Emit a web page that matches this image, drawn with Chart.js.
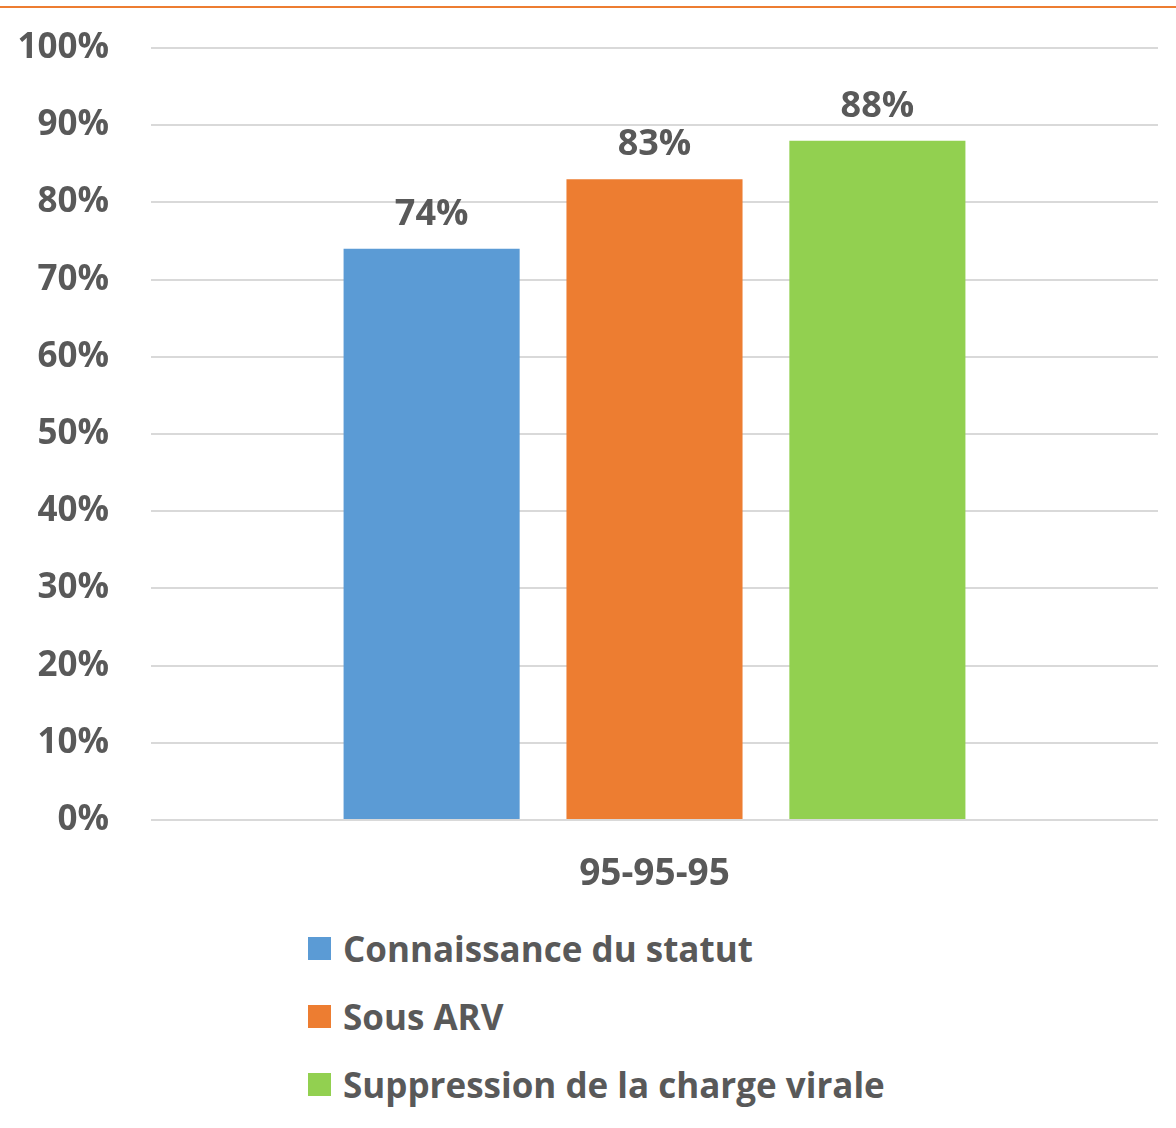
<!DOCTYPE html>
<html>
<head>
<meta charset="utf-8">
<script src="https://cdn.jsdelivr.net/npm/chart.js@4.4.0/dist/chart.umd.min.js"></script>
<style>
  html, body { margin: 0; padding: 0; background: #fff; }
  #topline { height: 2px; background: #ED7D31; margin-top: 6px; }
  #wrap { position: relative; width: 1176px; height: 915px; margin-top: -23px; }
  #legend { list-style: none; margin: 0; padding: 0; position: absolute; left: 308px; top: 914px;
            font-family: "Open Sans", Lato, sans-serif; font-weight: bold; font-size: 35px; color: #595959; }
  #legend li { height: 68px; display: flex; align-items: center; }
  #legend span.box { display: inline-block; width: 23px; height: 23px; margin-right: 12px; }
</style>
</head>
<body>
<div id="topline"></div>
<div id="wrap"><canvas id="chart"></canvas></div>
<ul id="legend"></ul>
<script>
// categories / series
const categories = ['95-95-95'];
const seriesNames = ['Connaissance du statut', 'Sous ARV', 'Suppression de la charge virale'];
const seriesValues = [[74], [83], [88]];
const seriesColors = ['#5B9BD5', '#ED7D31', '#92D050'];
const yTicks = [0, 10, 20, 30, 40, 50, 60, 70, 80, 90, 100];

const textColor = '#595959';
const fontFam = '"Open Sans", Lato, sans-serif';

// draws the % labels above each bar
const valueLabels = {
    id: 'valueLabels',
    afterDatasetsDraw(chart) {
        const ctx = chart.ctx;
        ctx.save();
        ctx.fillStyle = textColor;
        ctx.font = 'bold 36px ' + fontFam;
        ctx.textAlign = 'center';
        ctx.textBaseline = 'bottom';
        chart.data.datasets.forEach((ds, i) => {
            chart.getDatasetMeta(i).data.forEach((bar, j) => {
                ctx.fillText(ds.data[j] + '%', bar.x, bar.y - 16);
            });
        });
        ctx.restore();
    }
};

const ctxChart = document.getElementById('chart');
const myChart = new Chart(ctxChart, {
    type: 'bar',
    data: {
        labels: categories,
        datasets: seriesNames.map((name, i) => ({
            label: name,
            data: seriesValues[i],
            backgroundColor: seriesColors[i],
            borderWidth: 0,
            categoryPercentage: 0.664,
            barPercentage: 0.79
        }))
    },
    options: {
        responsive: true,
        maintainAspectRatio: false,
        animation: false,
        layout: {
            padding: { top: 16, right: 18, left: 0, bottom: 0 }
        },
        scales: {
            y: {
                min: 0,
                max: 100,
                afterBuildTicks(scale) {
                    scale.ticks = yTicks.map(v => ({ value: v }));
                },
                afterFit(scale) { scale.width = 151; },
                border: { display: false },
                grid: { color: '#D9D9D9', lineWidth: 2, drawTicks: false },
                ticks: {
                    padding: 42,
                    color: textColor,
                    font: { family: fontFam, size: 35, weight: 'bold' },
                    callback: v => v + '%'
                }
            },
            x: {
                border: { display: false },
                grid: { display: false },
                afterFit(scale) { scale.height = 80; },
                ticks: {
                    padding: 24,
                    color: textColor,
                    font: { family: fontFam, size: 37, weight: 'bold' }
                }
            }
        },
        plugins: {
            legend: { display: false },
            tooltip: { enabled: false }
        }
    },
    plugins: [valueLabels]
});

// html legend, one item per line
const legendEl = document.getElementById('legend');
myChart.data.datasets.forEach(ds => {
    const li = document.createElement('li');
    const box = document.createElement('span');
    box.className = 'box';
    box.style.background = ds.backgroundColor;
    li.appendChild(box);
    li.appendChild(document.createTextNode(ds.label));
    legendEl.appendChild(li);
});
</script>
</body>
</html>
